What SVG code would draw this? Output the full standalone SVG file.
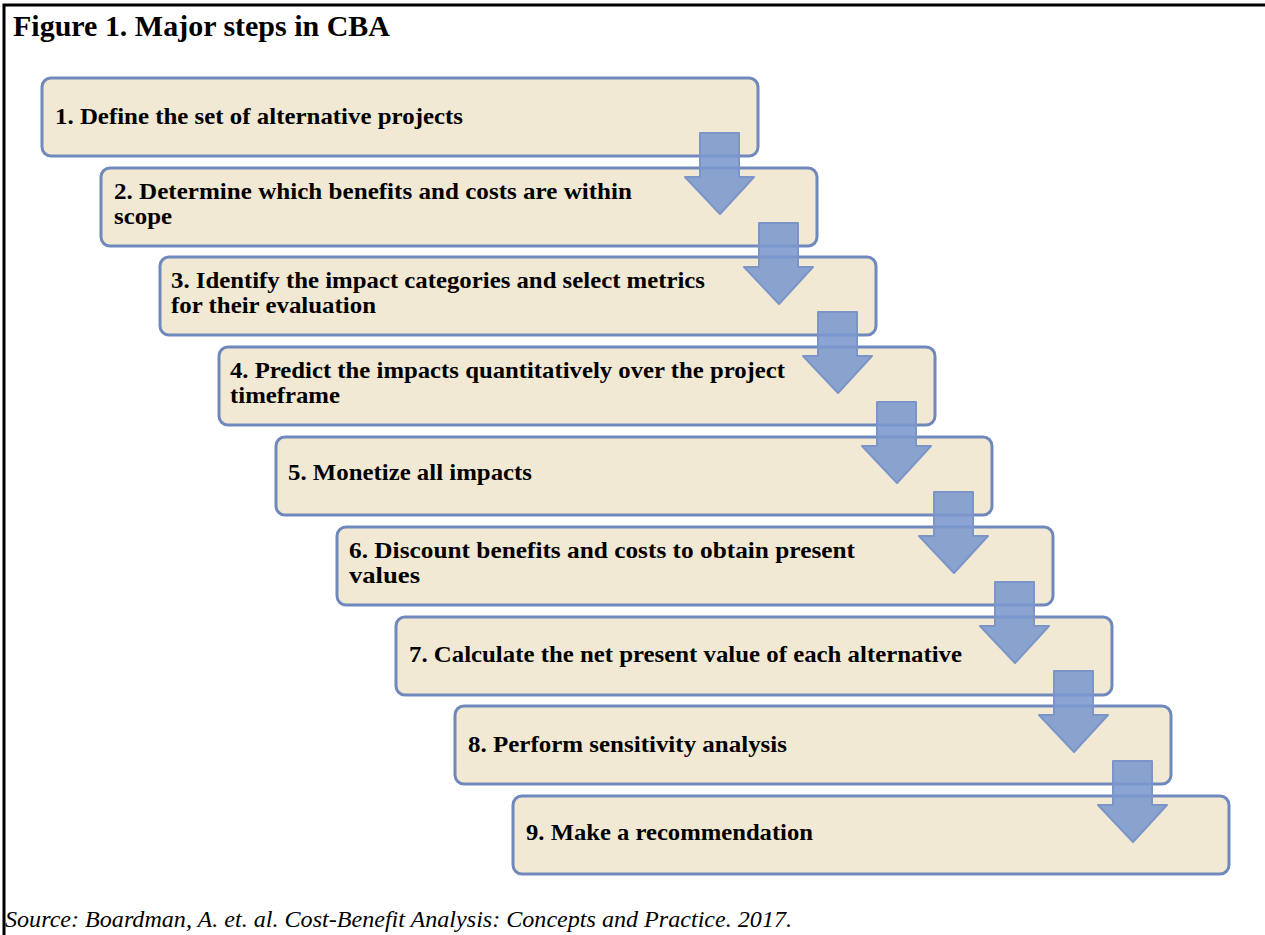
<svg xmlns="http://www.w3.org/2000/svg" width="1265" height="935" viewBox="0 0 1265 935">
<style>
.box{fill:#f2e9d5;stroke:#7089bc;stroke-width:3}
.t{font-family:"Liberation Serif",serif;font-weight:bold;font-size:23.5px;fill:#000}
.arr{fill:#7b97cd;fill-opacity:0.88;stroke:#7c95c9;stroke-width:2;stroke-linejoin:round}
</style>
<rect width="1265" height="935" fill="#fff"/>
<path d="M4 935 V5 H1265" fill="none" stroke="#000" stroke-width="3"/>
<text x="13" y="36" font-family="'Liberation Serif',serif" font-weight="bold" font-size="30" textLength="377" lengthAdjust="spacingAndGlyphs">Figure 1. Major steps in CBA</text>
<g id="n1"><rect class="box" x="42" y="78" width="716" height="78" rx="9"/><text class="t" x="55" y="124" textLength="408" lengthAdjust="spacingAndGlyphs">1. Define the set of alternative projects</text></g>
<g id="n2"><rect class="box" x="101" y="168" width="716" height="78" rx="9"/><text class="t" x="114" y="199" textLength="518" lengthAdjust="spacingAndGlyphs">2. Determine which benefits and costs are within</text><text class="t" x="114" y="224" textLength="58" lengthAdjust="spacingAndGlyphs">scope</text></g>
<g id="n3"><rect class="box" x="160" y="257" width="716" height="78" rx="9"/><text class="t" x="171" y="288" textLength="534" lengthAdjust="spacingAndGlyphs">3. Identify the impact categories and select metrics</text><text class="t" x="171" y="313" textLength="205" lengthAdjust="spacingAndGlyphs">for their evaluation</text></g>
<g id="n4"><rect class="box" x="219" y="347" width="716" height="78" rx="9"/><text class="t" x="230" y="378" textLength="555" lengthAdjust="spacingAndGlyphs">4. Predict the impacts quantitatively over the project</text><text class="t" x="230" y="403" textLength="110" lengthAdjust="spacingAndGlyphs">timeframe</text></g>
<g id="n5"><rect class="box" x="276" y="437" width="716" height="78" rx="9"/><text class="t" x="288" y="480" textLength="244" lengthAdjust="spacingAndGlyphs">5. Monetize all impacts</text></g>
<g id="n6"><rect class="box" x="337" y="527" width="716" height="78" rx="9"/><text class="t" x="349" y="558" textLength="506" lengthAdjust="spacingAndGlyphs">6. Discount benefits and costs to obtain present</text><text class="t" x="349" y="583" textLength="71" lengthAdjust="spacingAndGlyphs">values</text></g>
<g id="n7"><rect class="box" x="396" y="617" width="716" height="78" rx="9"/><text class="t" x="409" y="662" textLength="553" lengthAdjust="spacingAndGlyphs">7. Calculate the net present value of each alternative</text></g>
<g id="n8"><rect class="box" x="455" y="706" width="716" height="78" rx="9"/><text class="t" x="468" y="752" textLength="319" lengthAdjust="spacingAndGlyphs">8. Perform sensitivity analysis</text></g>
<g id="n9"><rect class="box" x="513" y="796" width="716" height="78" rx="9"/><text class="t" x="526" y="840" textLength="287" lengthAdjust="spacingAndGlyphs">9. Make a recommendation</text></g>
<g id="connectors">
<path class="arr" d="M700 133 H739 V177 H754 L720 214 L685 177 H700 Z"/>
<path class="arr" transform="translate(59,90)" d="M700 133 H739 V177 H754 L720 214 L685 177 H700 Z"/>
<path class="arr" transform="translate(118,179)" d="M700 133 H739 V177 H754 L720 214 L685 177 H700 Z"/>
<path class="arr" transform="translate(177,269)" d="M700 133 H739 V177 H754 L720 214 L685 177 H700 Z"/>
<path class="arr" transform="translate(234,359)" d="M700 133 H739 V177 H754 L720 214 L685 177 H700 Z"/>
<path class="arr" transform="translate(295,449)" d="M700 133 H739 V177 H754 L720 214 L685 177 H700 Z"/>
<path class="arr" transform="translate(354,538)" d="M700 133 H739 V177 H754 L720 214 L685 177 H700 Z"/>
<path class="arr" transform="translate(413,628)" d="M700 133 H739 V177 H754 L720 214 L685 177 H700 Z"/>
</g>
<text x="5" y="927" font-family="'Liberation Serif',serif" font-style="italic" font-size="23" textLength="787" lengthAdjust="spacingAndGlyphs">Source: Boardman, A. et. al. Cost-Benefit Analysis: Concepts and Practice. 2017.</text>
</svg>
